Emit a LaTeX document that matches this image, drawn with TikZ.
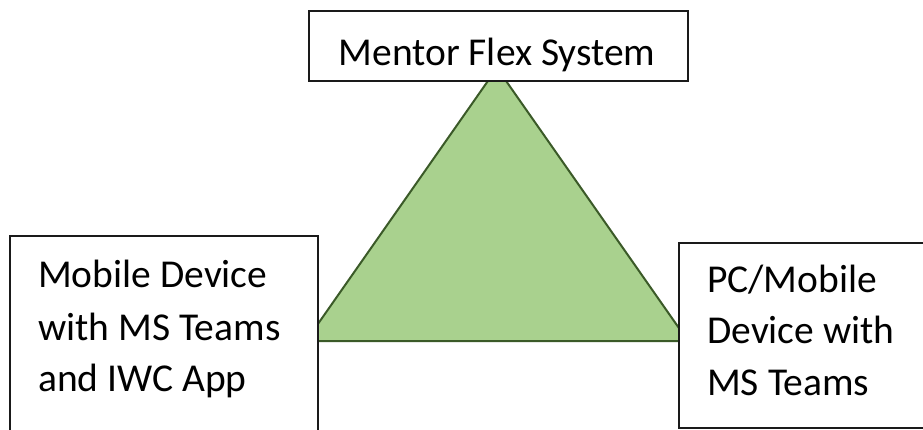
\documentclass[tikz,border=0pt]{standalone}
\usepackage{fontspec}
\setmainfont{Carlito}
\definecolor{trifill}{HTML}{A9D18E}
\definecolor{triedge}{HTML}{3B5A28}
\definecolor{boxedge}{HTML}{1A1A1A}
\begin{document}
\begin{tikzpicture}[x=1pt,y=-1pt,
  box/.style={draw=boxedge,line width=2pt,fill=white,rectangle,inner sep=0pt},
  lbl/.style={inner sep=0pt,anchor=base west,font=\fontsize{39.5}{52}\selectfont},
  tri/.style={fill=trifill,draw=triedge,line width=2pt,line join=miter}]
\useasboundingbox (0,0) rectangle (923,429);
\coordinate (apex) at (497,68);
\coordinate (bl) at (306,341);
\coordinate (br) at (688,341);
\draw[tri] (apex) -- (bl) -- (br) -- cycle;
\node[box,anchor=north west,minimum width=379pt,minimum height=70pt] (top) at (308,10) {};
\node[inner sep=0pt,anchor=base,font=\fontsize{39.5}{52}\selectfont] (toplbl) at (497,65) {Mentor Flex System};
\node[box,anchor=north west,minimum width=308pt,minimum height=230pt] (left) at (9,235) {};
\node[lbl] (l1) at (38,287) {Mobile Device};
\node[lbl] (l2) at (38,340) {with MS Teams};
\node[lbl] (l3) at (38,391) {and IWC App};
\node[box,anchor=north west,minimum width=270pt,minimum height=185pt] (right) at (678,242) {};
\node[lbl] (r1) at (707,292) {PC/Mobile};
\node[lbl] (r2) at (707,343) {Device with};
\node[lbl] (r3) at (707,395) {MS Teams};
\end{tikzpicture}
\end{document}
